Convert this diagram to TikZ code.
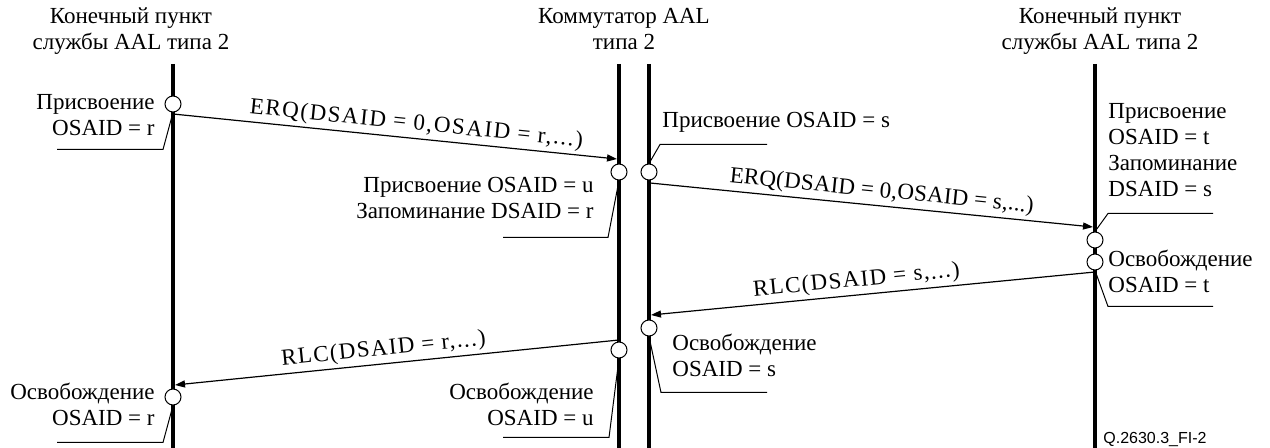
\documentclass[tikz,border=0pt]{standalone}
\usepackage{fontspec}
\setmainfont{Liberation Serif}
\newfontfamily\figidfont{Liberation Sans}
\usetikzlibrary{arrows.meta}

\begin{document}
\begin{tikzpicture}[
    x = 0.5pt, y = -0.5pt,
    font = \fontsize{11.5}{13}\selectfont,
    > = {Triangle[length=5pt, width=3.5pt]},
    lifeline/.style = {line width=2.2pt},
    msg/.style = {->, line width=0.6pt},
    msglabel/.style = {sloped, above=1.5pt, inner sep=0pt,
        font=\fontsize{11.5}{13}\selectfont\addfontfeatures{LetterSpace=#1}},
    event/.style = {circle, draw, fill=white, line width=0.5pt,
        inner sep=0pt, minimum size=8pt},
    leader/.style = {line width=0.5pt},
    note/.style = {inner sep=0pt}
]
\useasboundingbox (0,0) rectangle (1270,448);

% Headers (base = last line)
\node[align=center, anchor=base] (hdrL) at (131,50) {Конечный пункт\\службы AAL типа 2};
\node[align=center, anchor=base] (hdrM) at (624,50) {Коммутатор AAL\\типа 2};
\node[align=center, anchor=base] (hdrR) at (1100,50) {Конечный пункт\\службы AAL типа 2};

% Lifelines
\coordinate (epL) at (173,64);   \coordinate (epL-end) at (173,448);
\coordinate (swL) at (619,64);   \coordinate (swL-end) at (619,448);
\coordinate (swR) at (649,64);   \coordinate (swR-end) at (649,448);
\coordinate (epR) at (1095,64);  \coordinate (epR-end) at (1095,448);
\draw[lifeline] (epL) -- (epL-end);
\draw[lifeline] (swL) -- (swL-end);
\draw[lifeline] (swR) -- (swR-end);
\draw[lifeline] (epR) -- (epR-end);

% Messages
\coordinate (erq1-out) at (173,114);  \coordinate (erq1-in) at (617,159);
\coordinate (erq2-out) at (650,183);  \coordinate (erq2-in) at (1093,227);
\coordinate (rlc2-out) at (1095,272); \coordinate (rlc2-in) at (651,315);
\coordinate (rlc1-out) at (619,340);  \coordinate (rlc1-in) at (175,385);
\draw[msg] (erq1-out) -- node[msglabel=7, pos=0.545] (erq1) {ERQ(DSAID = 0,OSAID = r,...)} (erq1-in);
\draw[msg] (erq2-out) -- node[msglabel=1, pos=0.52] (erq2) {ERQ(DSAID = 0,OSAID = s,...)} (erq2-in);
\draw[msg] (rlc2-out) -- node[msglabel=6, pos=0.534] (rlc2) {RLC(DSAID = s,...)} (rlc2-in);
\draw[msg] (rlc1-out) -- node[msglabel=6, pos=0.527] (rlc1) {RLC(DSAID = r,...)} (rlc1-in);

% Events on the lifelines
\node[event] (assignR)  at (173,104) {};
\node[event] (assignU)  at (619,172) {};
\node[event] (assignS)  at (649,172) {};
\node[event] (assignT)  at (1095,240) {};
\node[event] (releaseT) at (1095,262) {};
\node[event] (releaseS) at (649,328) {};
\node[event] (releaseU) at (619,350) {};
\node[event] (releaseR) at (173,397) {};

% Leaders
\draw[leader] (assignR.south) -- ++(-10,37) -- ++(-106,0);
\draw[leader] (assignU.south) -- ++(-11,57) -- ++(-105,0);
\draw[leader] (assignS.north) -- ++(11,-19) -- ++(107,0);
\draw[leader] (assignT.north) -- ++(13,-18) -- ++(105,0);
\draw[leader] (releaseT.south) -- ++(13,36) -- ++(105,0);
\draw[leader] (releaseS.south) -- ++(12,56) -- ++(106,0);
\draw[leader] (releaseU.south) -- ++(-10,79) -- ++(-106,0);
\draw[leader] (releaseR.south) -- ++(-10,37) -- ++(-106,0);

% Notes (base = last line)
\node[note, align=right, anchor=base east] (noteR1) at (155,136) {Присвоение\\OSAID = r};
\node[note, align=right, anchor=base east] (noteU1) at (594,219) {Присвоение OSAID = u\\Запоминание DSAID = r};
\node[note, align=left, anchor=base west] (noteS1) at (662,128) {Присвоение OSAID = s};
\node[note, align=left, anchor=base west] (noteT1) at (1108,197) {Присвоение\\OSAID = t\\Запоминание\\DSAID = s};
\node[note, align=left, anchor=base west] (noteT2) at (1108,293) {Освобождение\\OSAID = t};
\node[note, align=left, anchor=base west] (noteS2) at (672,377) {Освобождение\\OSAID = s};
\node[note, align=right, anchor=base east] (noteU2) at (594,426) {Освобождение\\OSAID = u};
\node[note, align=right, anchor=base east] (noteR2) at (155,426) {Освобождение\\OSAID = r};

\node[anchor=base west, inner sep=0pt, font=\figidfont\fontsize{8}{9}\selectfont] (figid) at (1103,444) {Q.2630.3\_FI-2};
\end{tikzpicture}
\end{document}
